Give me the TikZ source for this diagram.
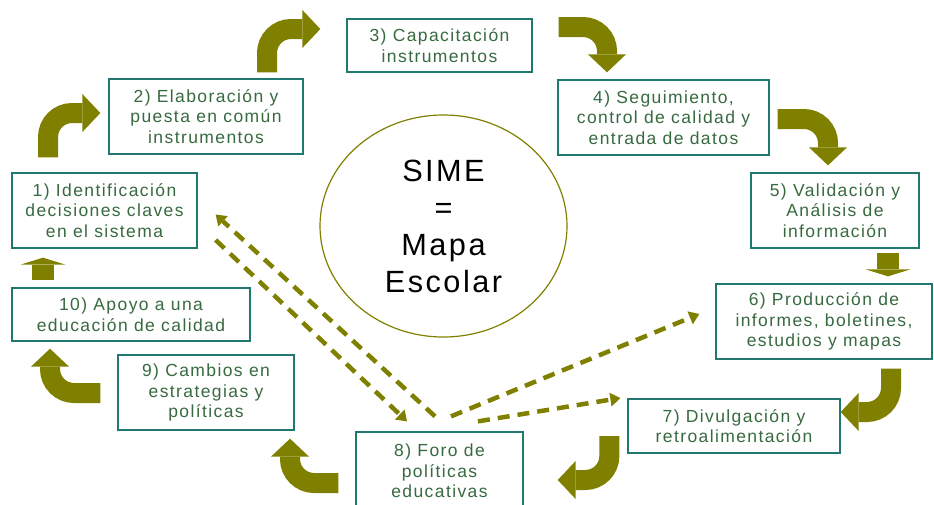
\documentclass[tikz,border=0pt]{standalone}
\usepackage{fontspec}
\setmainfont{Liberation Sans}[LetterSpace=8.0]
\usetikzlibrary{arrows.meta,calc,shapes.geometric}

\definecolor{boxline}{RGB}{32,120,112}
\definecolor{boxtext}{RGB}{56,106,64}
\definecolor{arrowolive}{RGB}{128,128,0}

\begin{document}
\begin{tikzpicture}[x=1pt,y=1pt,yscale=-1,
  stepbox/.style={draw=boxline,line width=1.3pt,fill=white,text=boxtext,align=center,inner sep=0pt,font=\fontsize{17.5}{20.7}\selectfont},
  bigarrow/.style={draw=arrowolive,line width=20pt,rounded corners=24pt,-{Triangle[length=18pt,width=38pt,line width=0pt]}},
  flatarrow/.style={draw=arrowolive,line width=22pt,-{Triangle[length=7pt,width=45pt,line width=0pt]}},
  feedback/.style={draw=arrowolive,line width=4.5pt,dash pattern=on 12pt off 8pt,-{Triangle[length=10pt,width=14pt,line width=0pt]}}]
\useasboundingbox (0,0) rectangle (934,504);

%Circle
\node [draw=arrowolive,line width=1.2pt,ellipse,minimum width=247pt,minimum height=222pt,inner sep=0pt,align=center,font=\fontsize{30.7}{37}\selectfont] (sime) at (443.5,226) {SIME\\=\\Mapa\\Escolar};

% Steps
\node [stepbox,minimum width=185pt,minimum height=75pt] (ident) at (104.5,210.5) {1) Identificación\\decisiones claves\\en el sistema};
\node [stepbox,minimum width=194pt,minimum height=75pt] (elab) at (206,116.5) {2) Elaboración y\\puesta en común\\instrumentos};
\node [stepbox,minimum width=185pt,minimum height=53pt] (capac) at (439.5,45.5) {3) Capacitación\\instrumentos};
\node [stepbox,minimum width=211pt,minimum height=75pt] (segui) at (663.5,117.5) {4) Seguimiento,\\control de calidad y\\entrada de datos};
\node [stepbox,minimum width=168pt,minimum height=75pt] (valid) at (835,210.5) {5) Validación y\\Análisis de\\información};
\node [stepbox,minimum width=216pt,minimum height=75pt] (produc) at (824,321.5) {6) Producción de\\informes, boletines,\\estudios y mapas};
\node [stepbox,minimum width=212pt,minimum height=54pt] (divul) at (734,426) {7) Divulgación y\\retroalimentación};
\node [stepbox,minimum width=167pt,minimum height=78pt] (foro) at (439.5,471) {8) Foro de\\políticas\\educativas};
\node [stepbox,minimum width=176pt,minimum height=75pt] (cambios) at (206,392.5) {9) Cambios en\\estrategias y\\políticas};
\node [stepbox,minimum width=238pt,minimum height=53pt] (apoyo) at (131,314.5) {10) Apoyo a una\\educación de calidad};

% Cycle arrows
\draw [bigarrow] ($(ident.north)+(-56.5,-15)$) |- ($(elab.west)+(-8,-3.5)$);
\draw [bigarrow] ($(elab.north)+(61,-6)$) |- ($(capac.west)+(-26,-16.5)$);
\draw [bigarrow] ($(capac.east)+(26,-18.5)$) -| ($(segui.north)+(-56.5,-7)$);
\draw [bigarrow] ($(segui.east)+(8,1.5)$) -| ($(valid.north)+(-7,-7)$);
\draw [flatarrow] ($(valid.south)+(53,4)$) -- ($(produc.north)+(64,-7)$);
\draw [bigarrow] ($(produc.south)+(67,9)$) |- ($(divul.east)+(0,-14)$);
\draw [bigarrow] ($(divul.west)+(-18,10)$) |- ($(foro.east)+(34,9)$);
\draw [bigarrow] ($(foro.west)+(-17,12)$) -| ($(cambios.south)+(84,8)$);
\draw [bigarrow] ($(cambios.west)+(-17,0.5)$) -| ($(apoyo.south)+(-81,7)$);
\draw [flatarrow] ($(apoyo.north)+(-88,-7)$) -- ($(ident.south)+(-61.5,9)$);

% Feedback from the forum
\draw [feedback] ($(foro.north)+(-4.5,-15)$) -- ($(ident.east)+(18,4)$);
\draw [feedback] ($(ident.east)+(18,29.5)$) -- ($(foro.north)+(-32.5,-10)$);
\draw [feedback] ($(foro.north)+(11.5,-15)$) -- ($(produc.west)+(-16,-7.5)$);
\draw [feedback] ($(foro.north)+(38.5,-10)$) -- ($(divul.west)+(-7,-28)$);

\end{tikzpicture}
\end{document}
